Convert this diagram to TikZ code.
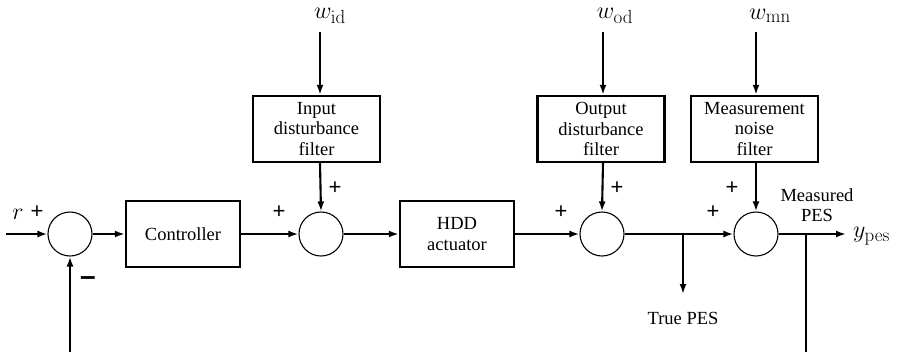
\RequirePackage{fix-cm}
\documentclass[tikz,border=0pt]{standalone}
\usepackage[no-math]{fontspec}
\setmainfont{Liberation Serif}
\newfontfamily\plusfont{Liberation Sans}
\DeclareMathSizes{24}{24}{19}{14}
\usetikzlibrary{arrows.meta}
\begin{document}
\begin{tikzpicture}[x=1pt,y=-1pt,
  blk/.style={draw, line width=2.4pt, minimum width=114pt, minimum height=66pt, inner sep=0pt, align=center, font=\fontsize{18.5}{20.5}\selectfont},
  fblk/.style={blk, minimum width=127pt},
  sumc/.style={draw, circle, line width=1.1pt, minimum size=44pt, inner sep=0pt},
  sig/.style={line width=2.1pt, -{Latex[length=10pt,width=7pt]}},
  ln/.style={line width=2.1pt},
  lbl/.style={font=\fontsize{18.5}{20.5}\selectfont, inner sep=0pt, align=center},
  pm/.style={font=\plusfont\fontsize{22}{22}\selectfont, inner sep=0pt},
  mlbl/.style={font=\fontsize{24}{24}\selectfont, inner sep=0pt}]
\useasboundingbox (0,0) rectangle (900,354);

% summing junctions
\node[sumc] (s1) at (70,234) {};
\node[sumc] (s2) at (321,234) {};
\node[sumc] (s3) at (602,234) {};
\node[sumc] (s4) at (756,234) {};

% blocks
\node[blk] (ctrl) at (183,234) {Controller};
\node[blk] (hdd) at (457,234) {HDD\\actuator};
\node[fblk] (idf) at (316.5,129) {Input\\disturbance\\filter};
\node[fblk] (odf) at (601,129) {Output\\disturbance\\filter};
\node[fblk] (mnf) at (754.5,129) {Measurement\\noise\\filter};

% labels
\node[mlbl] (r) at (18,214) {$r$};
\node[mlbl] (wid) at (330,16) {$w_{\mathrm{id}}$};
\node[mlbl] (wod) at (615,16) {$w_{\mathrm{od}}$};
\node[mlbl] (wmn) at (770,16) {$w_{\mathrm{mn}}$};
\node[mlbl, anchor=west] (ypes) at (853,236) {$y_{\mathrm{pes}}$};
\node[lbl] (tpes) at (683,318) {True PES};
\node[lbl] (mpes) at (817,205) {Measured\\PES};

% signs
\node[pm] (p1) at (37,212) {+};
\node[font=\plusfont\bfseries\fontsize{28}{28}\selectfont, inner sep=0pt] (m1) at (88,281) {–};
\node[pm] (p2a) at (279,212) {+};
\node[pm] (p2b) at (335,188) {+};
\node[pm] (p3a) at (561,212) {+};
\node[pm] (p3b) at (617,188) {+};
\node[pm] (p4a) at (713,212) {+};
\node[pm] (p4b) at (732,188) {+};

% coordinates
\coordinate (in) at (6,234);
\coordinate (fb1) at (70,352);
\coordinate (widt) at (320,32);
\coordinate (wodt) at (603,32);
\coordinate (wmnt) at (756,32);
\coordinate (b1) at (683,234);
\coordinate (tp) at (683,294);
\coordinate (b2) at (806,234);
\coordinate (fb2) at (806,352);
\coordinate (out) at (846,234);

% connectors
\draw[sig] (in) -- (s1.west);
\draw[sig] (fb1) -- (s1.south);
\draw[sig] (s1.east) -- (ctrl.west);
\draw[sig] (ctrl.east) -- (s2.west);
\draw[sig] (s2.east) -- (hdd.west);
\draw[sig] (hdd.east) -- (s3.west);
\draw[sig] (s3.east) -- (s4.west);
\draw[sig] (s4.east) -- (out);
\draw[sig] (b1) -- (tp);
\draw[ln] (b2) -- (fb2);

\draw[sig] (widt) -- (widt |- idf.north);
\draw[sig] (widt |- idf.south) -- (s2.north);
\draw[sig] (wodt) -- (wodt |- odf.north);
\draw[sig] (wodt |- odf.south) -- (s3.north);
\draw[sig] (wmnt) -- (wmnt |- mnf.north);
\draw[sig] (wmnt |- mnf.south) -- (s4.north);
\end{tikzpicture}
\end{document}
